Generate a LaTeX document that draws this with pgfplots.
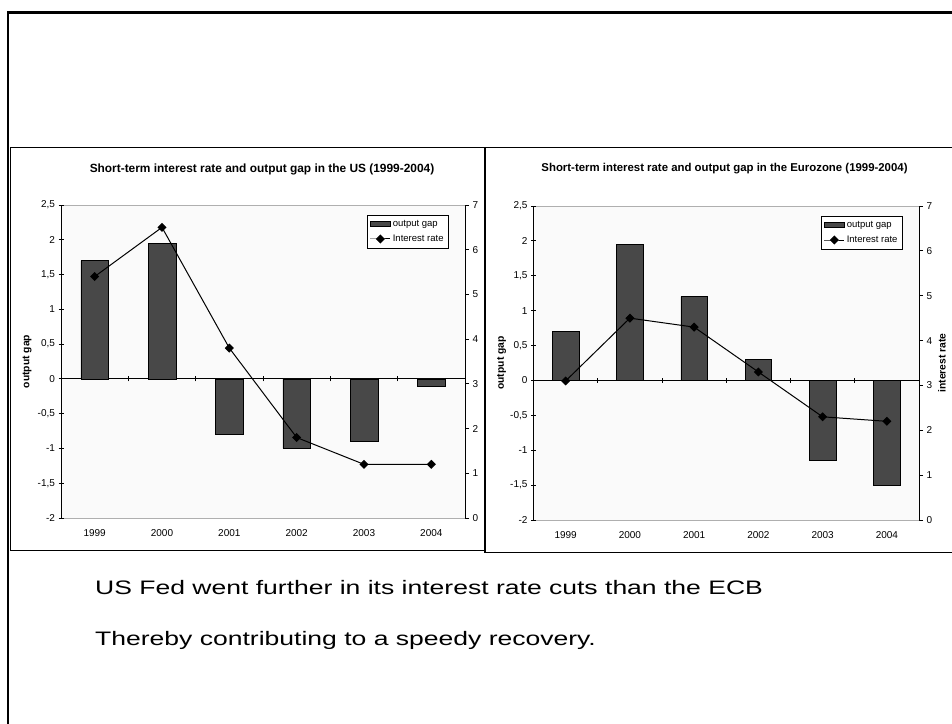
\documentclass[border=0pt]{standalone}
\usepackage{pgfplots}
\pgfplotsset{compat=1.18}
\usepackage{fontspec}
\setmainfont{Liberation Sans}
\newfontfamily\slidefont{Liberation Sans}[FakeStretch=1.36]

\definecolor{barcol}{RGB}{72,72,72}
\definecolor{plotbg}{RGB}{250,250,250}
\definecolor{plotframe}{RGB}{175,175,175}

\pgfplotsset{
  chart/.style={
    scale only axis, anchor=south west,
    xmin=-0.5, xmax=5.5,
    tick label style={font=\fontsize{10}{12}\selectfont},
  },
  % output gap: bars, left axis
  gapaxis/.style={
    chart,
    ymin=-2, ymax=2.5,
    axis x line*=middle, axis y line*=left,
    axis line style={-, black, line width=0.8pt},
    axis background/.style={fill=plotbg, draw=plotframe, line width=0.8pt},
    xtick={0.5,1.5,2.5,3.5,4.5}, xticklabels={},
    ytick={-2,-1.5,-1,-0.5,0,0.5,1,1.5,2,2.5},
    yticklabels={-2,{-1,5},-1,{-0,5},0,{0,5},1,{1,5},2,{2,5}},
    tick align=center, major tick length=5pt,
    tick style={black, line width=0.8pt},
    every axis y label/.style={at={(rel axis cs:0,0.5)}, rotate=90, anchor=center,
      font=\bfseries\fontsize{10.3}{12}\selectfont},
    ylabel={output gap},
  },
  % interest rate: line, right axis
  rateaxis/.style={
    chart,
    ymin=0, ymax=7,
    axis x line*=bottom, axis y line*=right,
    x axis line style={draw=none},
    y axis line style={-, black, line width=0.8pt},
    xtick={0,1,2,3,4,5}, xticklabels={1999,2000,2001,2002,2003,2004},
    xtick style={draw=none},
    xticklabel style={anchor=center, yshift=-15pt},
    ytick={0,1,2,3,4,5,6,7}, yticklabels={0,1,2,3,4,5,6,7},
    ytick align=outside, major tick length=4pt,
    ytick style={black, line width=0.8pt},
    every axis y label/.style={at={(rel axis cs:1,0.5)}, rotate=90, anchor=center,
      font=\bfseries\fontsize{10.3}{12}\selectfont},
    legend style={at={(0.96,0.968)}, anchor=north east, draw=black, line width=0.6pt,
      fill=white, font=\fontsize{9.5}{11}\selectfont,
      inner xsep=3pt, inner ysep=3pt, row sep=3pt},
    legend cell align=left,
  },
  barplot/.style={ybar, fill=barcol, draw=black, line width=0.5pt},
  rateline/.style={black, line width=1pt, mark=square*, mark size=2.7pt,
    mark options={rotate=45, solid},
    legend image code/.code={\draw[mark repeat=2, mark phase=2, ##1]
      plot coordinates {(0pt,0pt) (10pt,0pt) (20pt,0pt)};}},
  barlegend/.style={legend image code/.code={
      \draw[fill=barcol, draw=black, line width=0.5pt] (0pt,-2.5pt) rectangle (20pt,2.5pt);}},
}

\begin{document}
\begin{tikzpicture}[x=1pt,y=1pt]
\useasboundingbox (0,0) rectangle (952,723);
\draw[line width=2.5pt] (8,-5) -- (8,710.5) -- (960,710.5);

% ---- US chart
\draw[line width=1.2pt, fill=white] (10.5,172.5) rectangle (485,575.5);
\node[font=\bfseries\fontsize{11.9}{14}\selectfont] at (262,554)
  {Short-term interest rate and output gap in the US (1999-2004)};

\begin{axis}[gapaxis, at={(61pt,205pt)}, width=404pt, height=313pt,
  ylabel style={yshift=34pt}]
  \addplot[barplot, bar width=27.7pt] coordinates
    {(0,1.7) (1,1.95) (2,-0.8) (3,-1.0) (4,-0.9) (5,-0.1)};
\end{axis}
\begin{axis}[rateaxis, at={(61pt,205pt)}, width=404pt, height=313pt]
  \addlegendimage{barlegend}
  \addlegendentry{output gap}
  \addplot[rateline] coordinates
    {(0,5.4) (1,6.5) (2,3.8) (3,1.8) (4,1.2) (5,1.2)};
  \addlegendentry{Interest rate}
\end{axis}

% ---- Eurozone chart
\draw[line width=1.2pt, fill=white] (485,170.5) rectangle (962,575.5);
\node[font=\bfseries\fontsize{11.4}{14}\selectfont] at (724.5,554)
  {Short-term interest rate and output gap in the Eurozone (1999-2004)};

\begin{axis}[gapaxis, at={(533.5pt,203pt)}, width=385.5pt, height=314pt,
  ylabel style={yshift=32pt}]
  \addplot[barplot, bar width=26.7pt] coordinates
    {(0,0.7) (1,1.95) (2,1.2) (3,0.3) (4,-1.15) (5,-1.5)};
\end{axis}
\begin{axis}[rateaxis, at={(533.5pt,203pt)}, width=385.5pt, height=314pt,
  ylabel={interest rate}, ylabel style={yshift=-23pt},
  legend style={at={(0.958,0.968)}}]
  \addlegendimage{barlegend}
  \addlegendentry{output gap}
  \addplot[rateline] coordinates
    {(0,3.1) (1,4.5) (2,4.3) (3,3.3) (4,2.3) (5,2.2)};
  \addlegendentry{Interest rate}
\end{axis}

% ---- slide text
\node[anchor=base west, inner sep=0, font=\slidefont\fontsize{19.5}{23}\selectfont]
  at (95,129) {US Fed went further in its interest rate cuts than the ECB};
\node[anchor=base west, inner sep=0, font=\slidefont\fontsize{19.5}{23}\selectfont]
  at (95,78) {Thereby contributing to a speedy recovery.};
\end{tikzpicture}
\end{document}
